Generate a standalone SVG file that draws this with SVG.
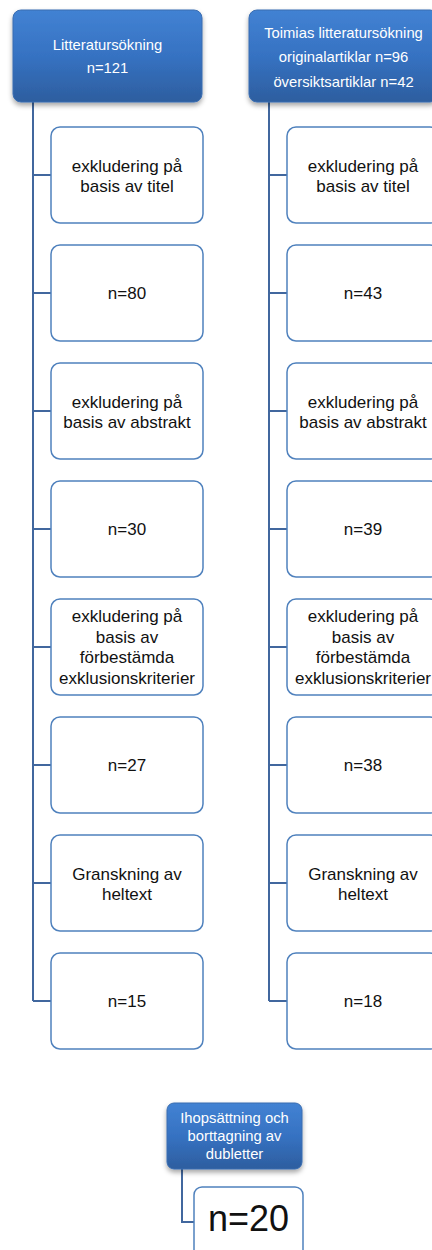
<svg xmlns="http://www.w3.org/2000/svg" width="432" height="1250" viewBox="0 0 432 1250">
<style>
.hdr{stroke:#3a6db0;stroke-width:1;fill:url(#g)}
.box{fill:#fff;stroke:#4f81bd;stroke-width:1.5}
.ht{font-family:"Liberation Sans",Arial,sans-serif;font-size:14.8px;fill:#fff;text-anchor:middle}
.bt{font-family:"Liberation Sans",Arial,sans-serif;font-size:17px;fill:#111;text-anchor:middle}
.big{font-family:"Liberation Sans",Arial,sans-serif;font-size:36px;fill:#111;text-anchor:middle}
.con{fill:none;stroke:#41679e;stroke-width:2}
</style>
<defs>
<linearGradient id="g" x1="0" y1="0" x2="0" y2="1">
<stop offset="0" stop-color="#4282d3"/>
<stop offset="0.5" stop-color="#3672c2"/>
<stop offset="1" stop-color="#2d5e9f"/>
</linearGradient>
<filter id="sh" x="-10%" y="-10%" width="120%" height="130%">
<feDropShadow dx="0" dy="3" stdDeviation="2.5" flood-color="#000" flood-opacity="0.35"/>
</filter>
</defs>
<rect width="432" height="1250" fill="#fff"/>
<g id="connectors">
<path class="con" d="M33 102V1001M33 175H51M33 293H51M33 411H51M33 529H51M33 647H51M33 765H51M33 883H51M33 1001H51"/>
<path class="con" d="M269 102V1001M269 175H287M269 293H287M269 411H287M269 529H287M269 647H287M269 765H287M269 883H287M269 1001H287"/>
<path class="con" d="M182 1169V1222H194"/>
</g>
<g id="h1"><rect class="hdr" filter="url(#sh)" x="13" y="10" width="189" height="92" rx="8"/>
<text class="ht" x="107.5" y="50">Litteratursökning</text><text class="ht" x="107.5" y="73">n=121</text></g>
<g id="l1"><rect class="box" x="51" y="127" width="152" height="96" rx="9"/><text class="bt" x="127" y="172">exkludering på</text><text class="bt" x="127" y="192">basis av titel</text></g>
<g id="l2"><rect class="box" x="51" y="245" width="152" height="96" rx="9"/><text class="bt" x="127" y="299">n=80</text></g>
<g id="l3"><rect class="box" x="51" y="363" width="152" height="96" rx="9"/><text class="bt" x="127" y="408">exkludering på</text><text class="bt" x="127" y="428">basis av abstrakt</text></g>
<g id="l4"><rect class="box" x="51" y="481" width="152" height="96" rx="9"/><text class="bt" x="127" y="535">n=30</text></g>
<g id="l5"><rect class="box" x="51" y="599" width="152" height="96" rx="9"/><text class="bt" x="127" y="622">exkludering på</text><text class="bt" x="127" y="643">basis av</text><text class="bt" x="127" y="663">förbestämda</text><text class="bt" x="127" y="684">exklusionskriterier</text></g>
<g id="l6"><rect class="box" x="51" y="717" width="152" height="96" rx="9"/><text class="bt" x="127" y="771">n=27</text></g>
<g id="l7"><rect class="box" x="51" y="835" width="152" height="96" rx="9"/><text class="bt" x="127" y="880">Granskning av</text><text class="bt" x="127" y="900">heltext</text></g>
<g id="l8"><rect class="box" x="51" y="953" width="152" height="96" rx="9"/><text class="bt" x="127" y="1007">n=15</text></g>
<g id="h2"><rect class="hdr" filter="url(#sh)" x="249" y="10" width="189" height="92" rx="8"/>
<text class="ht" x="343.5" y="38">Toimias litteratursökning</text><text class="ht" x="343.5" y="62">originalartiklar n=96</text><text class="ht" x="343.5" y="87">översiktsartiklar n=42</text></g>
<g id="r1"><rect class="box" x="287" y="127" width="152" height="96" rx="9"/><text class="bt" x="363" y="172">exkludering på</text><text class="bt" x="363" y="192">basis av titel</text></g>
<g id="r2"><rect class="box" x="287" y="245" width="152" height="96" rx="9"/><text class="bt" x="363" y="299">n=43</text></g>
<g id="r3"><rect class="box" x="287" y="363" width="152" height="96" rx="9"/><text class="bt" x="363" y="408">exkludering på</text><text class="bt" x="363" y="428">basis av abstrakt</text></g>
<g id="r4"><rect class="box" x="287" y="481" width="152" height="96" rx="9"/><text class="bt" x="363" y="535">n=39</text></g>
<g id="r5"><rect class="box" x="287" y="599" width="152" height="96" rx="9"/><text class="bt" x="363" y="622">exkludering på</text><text class="bt" x="363" y="643">basis av</text><text class="bt" x="363" y="663">förbestämda</text><text class="bt" x="363" y="684">exklusionskriterier</text></g>
<g id="r6"><rect class="box" x="287" y="717" width="152" height="96" rx="9"/><text class="bt" x="363" y="771">n=38</text></g>
<g id="r7"><rect class="box" x="287" y="835" width="152" height="96" rx="9"/><text class="bt" x="363" y="880">Granskning av</text><text class="bt" x="363" y="900">heltext</text></g>
<g id="r8"><rect class="box" x="287" y="953" width="152" height="96" rx="9"/><text class="bt" x="363" y="1007">n=18</text></g>
<g id="h3"><rect class="hdr" filter="url(#sh)" x="167" y="1103" width="135" height="66" rx="7"/>
<text class="ht" x="234.5" y="1123">Ihopsättning och</text><text class="ht" x="234.5" y="1141">borttagning av</text><text class="ht" x="234.5" y="1159">dubletter</text></g>
<g id="b1"><rect class="box" x="194" y="1187" width="109" height="80" rx="8"/><text class="big" x="248.5" y="1231">n=20</text></g>
</svg>
